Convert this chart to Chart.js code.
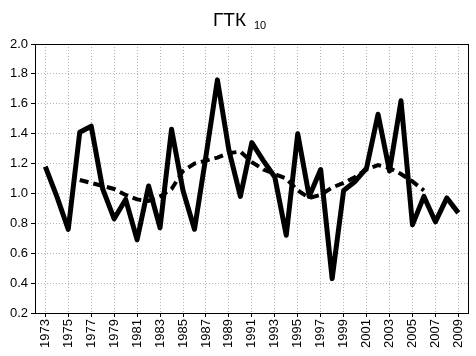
<!DOCTYPE html>
<html lang="ru">
<head>
    <meta charset="UTF-8">
    <title>ГТК 10</title>
    <style>
        html, body { margin: 0; padding: 0; background: #fff; }
        #chart { display: block; }
    </style>
</head>
<body>
    <canvas id="chart" width="476" height="356"></canvas>
    <script src="https://cdn.jsdelivr.net/npm/chart.js"></script>
    <script>
        // years on the x axis
        const years = [1973, 1974, 1975, 1976, 1977, 1978, 1979, 1980, 1981, 1982,
                       1983, 1984, 1985, 1986, 1987, 1988, 1989, 1990, 1991, 1992,
                       1993, 1994, 1995, 1996, 1997, 1998, 1999, 2000, 2001, 2002,
                       2003, 2004, 2005, 2006, 2007, 2008, 2009];
        // yearly values (solid line)
        const gtk = [1.18, 0.98, 0.76, 1.41, 1.45, 1.03, 0.83, 0.96, 0.69, 1.05,
                     0.77, 1.43, 1.02, 0.76, 1.25, 1.76, 1.29, 0.98, 1.34, 1.22,
                     1.11, 0.72, 1.40, 0.98, 1.16, 0.43, 1.02, 1.08, 1.17, 1.53,
                     1.15, 1.62, 0.79, 0.98, 0.81, 0.97, 0.87];
        // smoothed values (dashed line)
        const smoothYears = [1976, 1977, 1978, 1979, 1980, 1981, 1982, 1983, 1984, 1985,
                             1986, 1987, 1988, 1989, 1990, 1991, 1992, 1993, 1994, 1995,
                             1996, 1997, 1998, 1999, 2000, 2001, 2002, 2003, 2004, 2005, 2006];
        const smooth = [1.09, 1.07, 1.05, 1.03, 0.99, 0.96, 0.95, 0.98, 1.03, 1.15,
                        1.20, 1.22, 1.24, 1.27, 1.28, 1.21, 1.16, 1.13, 1.10, 1.02,
                        0.97, 0.99, 1.04, 1.07, 1.11, 1.16, 1.19, 1.17, 1.13, 1.08, 1.02];
        const xTicks = [1973, 1975, 1977, 1979, 1981, 1983, 1985, 1987, 1989, 1991,
                        1993, 1995, 1997, 1999, 2001, 2003, 2005, 2007, 2009];

        const font = "'Liberation Sans', Arial, sans-serif";

        // title with subscript, and a plain black frame round the plot
        const frame = {
            id: 'frame',
            afterDraw(chart) {
                const ctx = chart.ctx;
                const a = chart.chartArea;
                ctx.save();
                ctx.strokeStyle = '#000';
                ctx.lineWidth = 1;
                ctx.strokeRect(Math.round(a.left) + 0.5, Math.round(a.top) + 0.5,
                    Math.round(a.right - a.left) - 1, Math.round(a.bottom - a.top));
                ctx.fillStyle = '#000';
                ctx.textBaseline = 'alphabetic';
                ctx.textAlign = 'left';
                ctx.font = '19px ' + font;
                ctx.fillText('ГТК', 213, 26);
                ctx.font = '11px ' + font;
                ctx.fillText('10', 254, 29);
                ctx.restore();
            }
        };

        const grid = {
            color: '#b4b4b4',
            lineWidth: 1,
            tickLength: 4,
            tickColor: '#000',
            tickBorderDash: [],
            drawOnChartArea: true
        };

        new Chart(document.getElementById('chart'), {
            type: 'line',
            data: {
                datasets: [{
                    data: years.map((y, i) => ({ x: y, y: gtk[i] })),
                    borderColor: '#000',
                    borderWidth: 5,
                    pointRadius: 0,
                    tension: 0,
                    borderJoinStyle: 'round'
                }, {
                    data: smoothYears.map((y, i) => ({ x: y, y: smooth[i] })),
                    borderColor: '#000',
                    borderWidth: 4,
                    borderDash: [9, 5],
                    pointRadius: 0,
                    tension: 0
                }]
            },
            options: {
                responsive: false,
                animation: false,
                events: [],
                layout: { padding: { top: 44, right: 2, left: 0, bottom: 0 } },
                plugins: { legend: { display: false }, tooltip: { enabled: false } },
                scales: {
                    x: {
                        type: 'linear',
                        min: 1972.1,
                        max: 2009.9,
                        afterBuildTicks: axis => { axis.ticks = xTicks.map(v => ({ value: v })); },
                        afterFit: axis => { axis.height = 43; },
                        grid: grid,
                        border: { display: false, dash: [1, 2] },
                        ticks: {
                            autoSkip: false,
                            minRotation: 90,
                            maxRotation: 90,
                            padding: 2,
                            color: '#000',
                            font: { family: font, size: 13 },
                            callback: v => String(v)
                        }
                    },
                    y: {
                        min: 0.2,
                        max: 2.0,
                        afterFit: axis => { axis.width = 35; },
                        grid: grid,
                        border: { display: false, dash: [1, 2] },
                        ticks: {
                            stepSize: 0.2,
                            padding: 3,
                            color: '#000',
                            font: { family: font, size: 13 },
                            callback: v => v.toFixed(1)
                        }
                    }
                }
            },
            plugins: [frame]
        });
    </script>
</body>
</html>
